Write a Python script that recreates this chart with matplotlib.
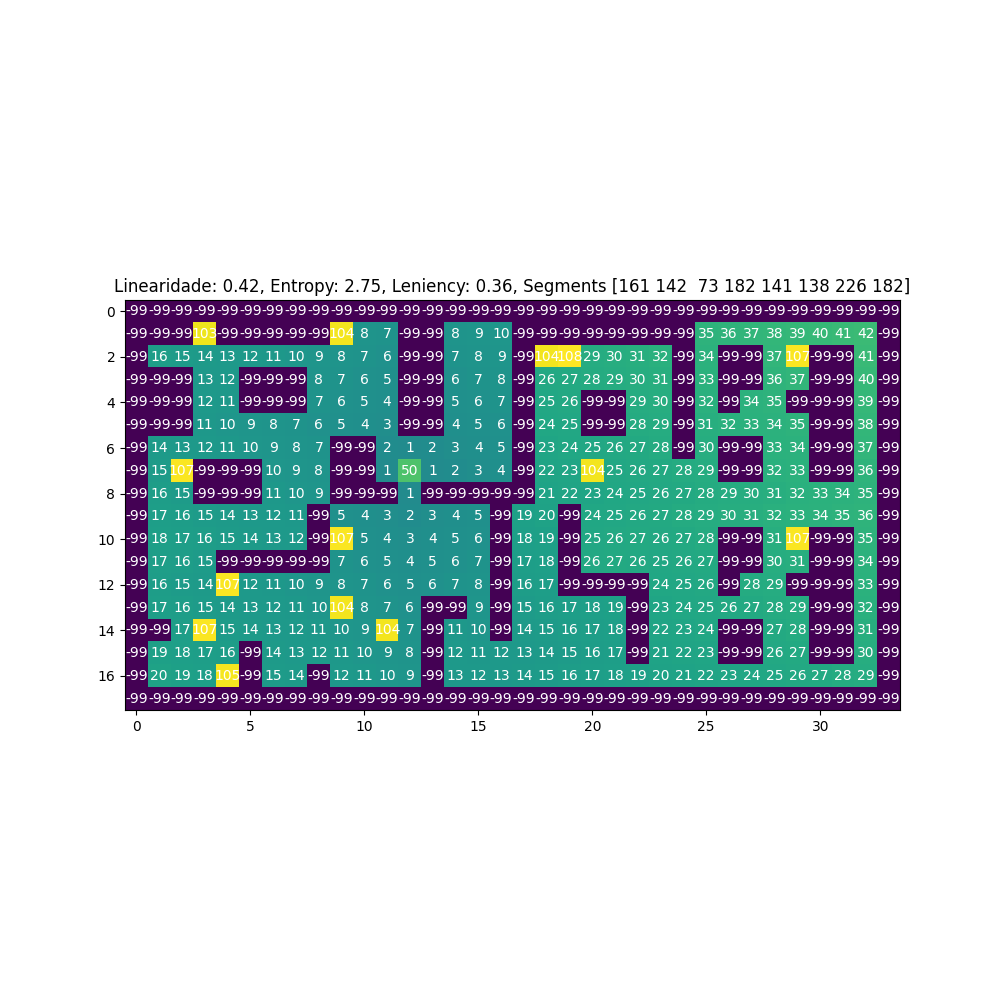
import matplotlib
matplotlib.use("Agg")
import matplotlib.pyplot as plt
import numpy as np

W = -99
rows = [
    [W] * 34,
    [W, W, W, 103, W, W, W, W, W, 104, 8, 7, W, W, 8, 9, 10, W, W, W, W, W, W, W, W, 35, 36, 37, 38, 39, 40, 41, 42, W],
    [W, 16, 15, 14, 13, 12, 11, 10, 9, 8, 7, 6, W, W, 7, 8, 9, W, 104, 108, 29, 30, 31, 32, W, 34, W, W, 37, 107, W, W, 41, W],
    [W, W, W, 13, 12, W, W, W, 8, 7, 6, 5, W, W, 6, 7, 8, W, 26, 27, 28, 29, 30, 31, W, 33, W, W, 36, 37, W, W, 40, W],
    [W, W, W, 12, 11, W, W, W, 7, 6, 5, 4, W, W, 5, 6, 7, W, 25, 26, W, W, 29, 30, W, 32, W, 34, 35, W, W, W, 39, W],
    [W, W, W, 11, 10, 9, 8, 7, 6, 5, 4, 3, W, W, 4, 5, 6, W, 24, 25, W, W, 28, 29, W, 31, 32, 33, 34, 35, W, W, 38, W],
    [W, 14, 13, 12, 11, 10, 9, 8, 7, W, W, 2, 1, 2, 3, 4, 5, W, 23, 24, 25, 26, 27, 28, W, 30, W, W, 33, 34, W, W, 37, W],
    [W, 15, 107, W, W, W, 10, 9, 8, W, W, 1, 50, 1, 2, 3, 4, W, 22, 23, 104, 25, 26, 27, 28, 29, W, W, 32, 33, W, W, 36, W],
    [W, 16, 15, W, W, W, 11, 10, 9, W, W, W, 1, W, W, W, W, W, 21, 22, 23, 24, 25, 26, 27, 28, 29, 30, 31, 32, 33, 34, 35, W],
    [W, 17, 16, 15, 14, 13, 12, 11, W, 5, 4, 3, 2, 3, 4, 5, W, 19, 20, W, 24, 25, 26, 27, 28, 29, 30, 31, 32, 33, 34, 35, 36, W],
    [W, 18, 17, 16, 15, 14, 13, 12, W, 107, 5, 4, 3, 4, 5, 6, W, 18, 19, W, 25, 26, 27, 26, 27, 28, W, W, 31, 107, W, W, 35, W],
    [W, 17, 16, 15, W, W, W, W, W, 7, 6, 5, 4, 5, 6, 7, W, 17, 18, W, 26, 27, 26, 25, 26, 27, W, W, 30, 31, W, W, 34, W],
    [W, 16, 15, 14, 107, 12, 11, 10, 9, 8, 7, 6, 5, 6, 7, 8, W, 16, 17, W, W, W, W, 24, 25, 26, W, 28, 29, W, W, W, 33, W],
    [W, 17, 16, 15, 14, 13, 12, 11, 10, 104, 8, 7, 6, W, W, 9, W, 15, 16, 17, 18, 19, W, 23, 24, 25, 26, 27, 28, 29, W, W, 32, W],
    [W, W, 17, 107, 15, 14, 13, 12, 11, 10, 9, 104, 7, W, 11, 10, W, 14, 15, 16, 17, 18, W, 22, 23, 24, W, W, 27, 28, W, W, 31, W],
    [W, 19, 18, 17, 16, W, 14, 13, 12, 11, 10, 9, 8, W, 12, 11, 12, 13, 14, 15, 16, 17, W, 21, 22, 23, W, W, 26, 27, W, W, 30, W],
    [W, 20, 19, 18, 105, W, 15, 14, W, 12, 11, 10, 9, W, 13, 12, 13, 14, 15, 16, 17, 18, 19, 20, 21, 22, 23, 24, 25, 26, 27, 28, 29, W],
    [W] * 34,
]
title = "Linearidade: 0.42, Entropy: 2.75, Leniency: 0.36, Segments [161 142  73 182 141 138 226 182]"

grid = np.array(rows)

fig, ax = plt.subplots(figsize=(10, 10), dpi=100)
ax.imshow(grid, cmap='viridis')
for i in range(grid.shape[0]):
    for j in range(grid.shape[1]):
        ax.text(j, i, grid[i, j], ha='center', va='center', color='w')
ax.set_title(title)
fig.savefig('out.png')
